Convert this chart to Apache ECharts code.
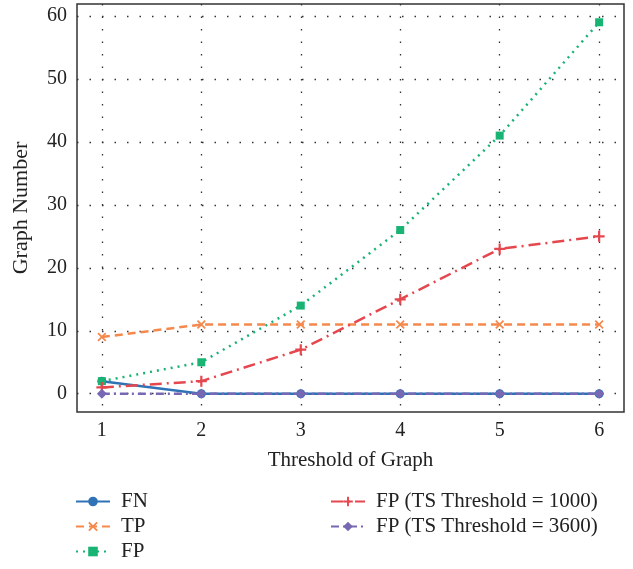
<!DOCTYPE html>
<html><head><meta charset="utf-8">
<script src="https://cdn.jsdelivr.net/npm/echarts@6/dist/echarts.min.js"></script>
<style>html,body{margin:0;padding:0;background:#fff}#c{width:633px;height:569px}</style>
</head><body><div id="c"></div>
<script>
const thresholds = [1, 2, 3, 4, 5, 6];
const yTicks = [0, 10, 20, 30, 40, 50, 60];
const seriesNames = ['FN', 'TP', 'FP', 'FP (TS Threshold = 1000)', 'FP (TS Threshold = 3600)'];
const fnValues = [2, 0, 0, 0, 0, 0];
const tpValues = [9, 11, 11, 11, 11, 11];
const fpValues = [2, 5, 14, 26, 41, 59];
const fp1000Values = [1, 2, 7, 15, 23, 25];
const fp3600Values = [0, 0, 0, 0, 0, 0];

const FONT = '"Liberation Serif", "DejaVu Serif", serif';
const pair = v => thresholds.map((x, i) => [x, v[i]]);
const plusPath = 'path://M4,0H6V4H10V6H6V10H4V6H0V4H4Z';
const crossPath = 'path://M1.4,0L5,3.6L8.6,0L10,1.4L6.4,5L10,8.6L8.6,10L5,6.4L1.4,10L0,8.6L3.6,5L0,1.4Z';

function mk(name, data, color, type, symbol, size) {
  return {
    name, type: 'line', data: pair(data), symbol, symbolSize: size,
    lineStyle: { color, width: 2.5, type },
    itemStyle: { color, borderColor: color, borderWidth: 0 },
    emphasis: { disabled: true }
  };
}

const chart = echarts.init(document.getElementById('c'), null, { renderer: 'canvas' });
const gridDots = { show: true, lineStyle: { color: '#333', width: 1.3, type: [1.5, 11] } };
const legendText = { fontFamily: FONT, fontSize: 21, color: '#222', padding: [0, 0, 0, 6] };
chart.setOption({
  animation: false,
  backgroundColor: '#fff',
  grid: { left: 77, right: 9, top: 4, bottom: 157, show: true, borderColor: '#333', borderWidth: 1.5, backgroundColor: 'transparent' },
  xAxis: {
    type: 'value', min: 0.75, max: 6.25,
    name: 'Threshold of Graph', nameLocation: 'middle', nameGap: 38,
    nameTextStyle: { fontFamily: FONT, fontSize: 21, color: '#222' },
    axisLine: { show: false },
    axisTick: { show: false, customValues: thresholds },
    axisLabel: { customValues: thresholds, fontFamily: FONT, fontSize: 20, color: '#222', margin: 9 },
    splitLine: gridDots
  },
  yAxis: {
    type: 'value', min: -2.9, max: 61.9,
    name: 'Graph Number', nameLocation: 'middle', nameGap: 45,
    nameTextStyle: { fontFamily: FONT, fontSize: 22, color: '#222' },
    axisLine: { show: false },
    axisTick: { show: false, customValues: yTicks },
    axisLabel: { customValues: yTicks, fontFamily: FONT, fontSize: 20, color: '#222', margin: 10 },
    splitLine: gridDots
  },
  legend: [
    { data: seriesNames.slice(0, 3), orient: 'vertical', left: 70, top: 486, height: 110, itemWidth: 34, itemHeight: 12, itemGap: 4, textStyle: legendText },
    { data: seriesNames.slice(3), orient: 'vertical', left: 325, top: 486, height: 110, itemWidth: 34, itemHeight: 12, itemGap: 4, textStyle: legendText }
  ],
  series: [
    mk(seriesNames[0], fnValues, '#2f73b6', 'solid', 'circle', 9),
    mk(seriesNames[1], tpValues, '#f5894d', [8, 5], crossPath, 9),
    mk(seriesNames[2], fpValues, '#19b374', [2, 5], 'rect', 8),
    mk(seriesNames[3], fp1000Values, '#e5474f', [12, 5, 2, 5], plusPath, 11),
    mk(seriesNames[4], fp3600Values, '#7868b4', [8, 4, 2, 4], 'diamond', 10)
  ]
});
</script></body></html>
